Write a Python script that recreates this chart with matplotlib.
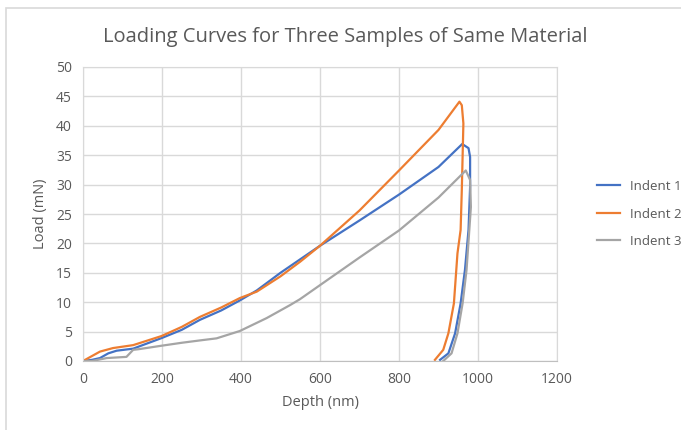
import matplotlib.pyplot as plt
from matplotlib.patches import Rectangle

# Indent 1 (loading then unloading), depth in nm, load in mN
depth_1 = [0, 23, 43, 64, 85, 127, 199, 250, 296, 350, 397, 440, 500, 600, 700, 800, 900,
           960, 976, 980, 980, 976, 967, 956, 942, 925, 904]
load_1 = [0, 0.2, 0.5, 1.3, 1.75, 2.1, 3.9, 5.3, 7.0, 8.6, 10.3, 12.0, 15.0, 19.6, 23.9, 28.3, 33.0,
          36.9, 36.2, 34.7, 29.6, 22.3, 15.5, 9.8, 4.7, 1.3, 0.2]

# Indent 2
depth_2 = [0, 43, 76, 127, 199, 250, 296, 350, 397, 440, 500, 550, 600, 700, 800, 900,
           953, 959, 963, 961, 959, 956, 948, 939, 925, 912, 891]
load_2 = [0, 1.6, 2.2, 2.7, 4.25, 5.8, 7.5, 9.1, 10.7, 11.8, 14.4, 16.9, 19.6, 25.6, 32.4, 39.3,
          44.1, 43.5, 40.4, 34.7, 29.1, 22.3, 18.3, 9.8, 4.7, 1.9, 0.2]

# Indent 3
depth_3 = [0, 23, 60, 110, 127, 140, 199, 250, 296, 338, 397, 465, 524, 549, 600, 700, 800, 900,
           969, 980, 982, 978, 971, 961, 948, 933, 912]
load_3 = [0, 0, 0.5, 0.7, 1.9, 2.0, 2.6, 3.1, 3.5, 3.85, 5.1, 7.3, 9.5, 10.5, 12.9, 17.6, 22.2, 27.8,
          32.4, 30.8, 26.2, 22.3, 15.5, 9.8, 4.7, 1.3, 0]

series = [
    (depth_1, load_1, "Indent 1", "#4472C4"),
    (depth_2, load_2, "Indent 2", "#ED7D31"),
    (depth_3, load_3, "Indent 3", "#A5A5A5"),
]

text_color = "#595959"
plt.rcParams["font.family"] = ["Open Sans", "DejaVu Sans"]

fig = plt.figure(figsize=(6.81, 4.30), dpi=100)
ax = fig.add_axes([83 / 681, 69 / 430, 474 / 681, 294 / 430])

# light frame around the chart area
fig.patches.append(Rectangle((6 / 681, -0.01), 1.0, (430 - 8) / 430 + 0.01,
                             transform=fig.transFigure, fill=False,
                             edgecolor="#D9D9D9", linewidth=1.2))

for x, y, label, color in series:
    ax.plot(x, y, color=color, linewidth=1.6, label=label)

ax.set_xlim(0, 1200)
ax.set_ylim(0, 50)
ax.set_xticks(range(0, 1201, 200))
ax.set_yticks(range(0, 51, 5))
ax.grid(True, color="#D9D9D9", linewidth=1)
ax.set_axisbelow(True)
for side in ["top", "right", "left"]:
    ax.spines[side].set_color("#D9D9D9")
ax.spines["bottom"].set_color("#BFBFBF")
ax.tick_params(length=0, colors=text_color, labelsize=10, pad=8)

ax.set_xlabel("Depth (nm)", fontsize=10.5, color=text_color, labelpad=6)
ax.set_ylabel("Load (mN)", fontsize=10.5, color=text_color, labelpad=6)
fig.text(0.507, 0.914, "Loading Curves for Three Samples of Same Material",
         ha="center", va="center", fontsize=14.5, color=text_color)

ax.legend(loc="center left", bbox_to_anchor=(1.06, 0.5), frameon=False,
          fontsize=9.5, labelcolor=text_color, handlelength=1.7, labelspacing=1.1)

fig.savefig("out.png", dpi=100)
